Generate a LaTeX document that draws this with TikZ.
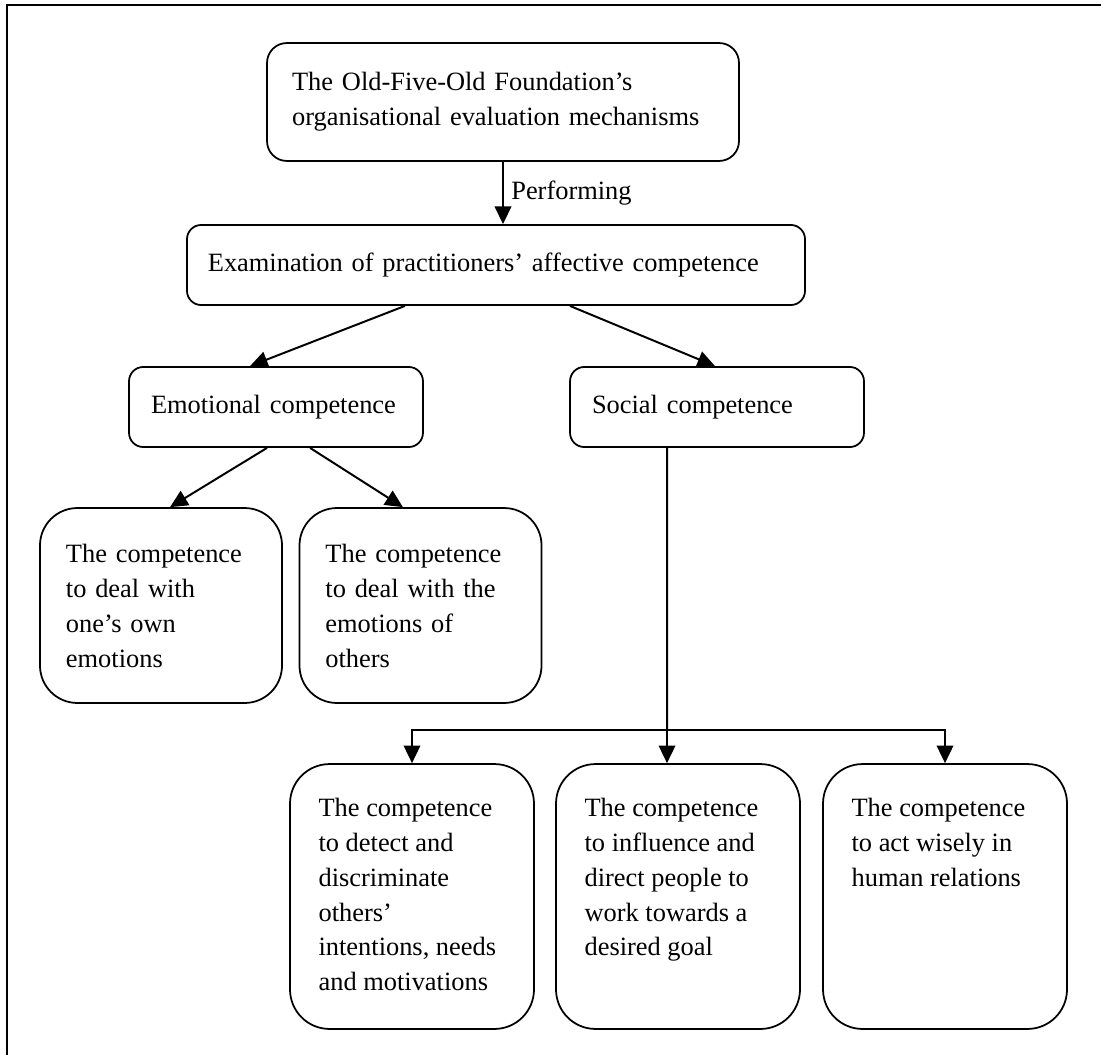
\documentclass[tikz,border=0pt]{standalone}
\usepackage{fontspec}
\setmainfont{Liberation Serif}
\usetikzlibrary{arrows.meta, calc, positioning}

\begin{document}
\begin{tikzpicture}[
    x=0.4545pt, y=-0.4545pt,
    txt/.style={font=\fontsize{12pt}{15.9pt}\selectfont},
    box/.style={txt, draw, line width=0.8pt, align=left, rounded corners=#1},
    box/.default=6.5pt,
    flat/.style={box, minimum height=36.4pt},
    mid/.style={box=17pt, inner xsep=11.8pt, text width=86.4pt, minimum height=88.6pt},
    tall/.style={txt, draw, line width=0.8pt, rounded corners=18pt, inner xsep=13pt, inner ysep=12.5pt},
    arrow/.style={-{Triangle[length=8pt, width=7.5pt]}, line width=0.9pt},
    line/.style={line width=0.9pt}
]
\useasboundingbox (0,0) rectangle (1101,1054);
\draw[line width=1.1pt] (7,5) rectangle (1130,1080);

\newcommand{\toptext}[1]{\parbox[c][95.4pt][t]{84.9pt}{\strut #1}}

\node[box=9pt, inner xsep=11.4pt, text width=191.7pt, minimum height=53.6pt] (found) at (503,102)
    {The Old-Five-Old Foundation’s\\organisational evaluation mechanisms};
\node[flat, inner xsep=9.5pt, text width=261.9pt] (exam) at (496,265)
    {Examination of practitioners’ affective competence};

\node[flat, inner xsep=10pt, text width=113.6pt] (emo) at (276,407) {Emotional competence};
\node[flat, inner xsep=10pt, text width=113.6pt] (social) at (717,407) {Social competence};

\node[mid] (own) at (161,605.5) {The competence\\to deal with\\one’s own\\emotions};
\node[mid] (others) at (420.5,605.5) {The competence\\to deal with the\\emotions of\\others};

\node[tall] (detect) at (412,896.5)
    {\toptext{The competence\\to detect and\\discriminate\\others’\\intentions, needs\\and motivations}};
\node[tall] (influence) at (678,896.5)
    {\toptext{The competence\\to influence and\\direct people to\\work towards a\\desired goal}};
\node[tall] (wisely) at (945,896.5)
    {\toptext{The competence\\to act wisely in\\human relations}};

\coordinate (split) at (667,730);

\draw[arrow] (found.south) -- (found.south |- exam.north) node[midway, right, txt] {Performing};

\draw[arrow] ([xshift=-41.4pt]exam.south) -- ([xshift=-11.8pt]emo.north);
\draw[arrow] ([xshift=33.6pt]exam.south) -- ([xshift=-0.9pt]social.north);

\draw[arrow] ([xshift=-4.1pt]emo.south) -- ([xshift=4.1pt]own.north);
\draw[arrow] ([xshift=15.5pt]emo.south) -- ([xshift=-8pt]others.north);

% social branch
\draw[line] ([xshift=-22.7pt]social.south) -- (split);
\draw[arrow] (split) -| (detect.north);
\draw[arrow] (split) -- (split |- influence.north);
\draw[arrow] (split) -| (wisely.north);

\end{tikzpicture}
\end{document}
